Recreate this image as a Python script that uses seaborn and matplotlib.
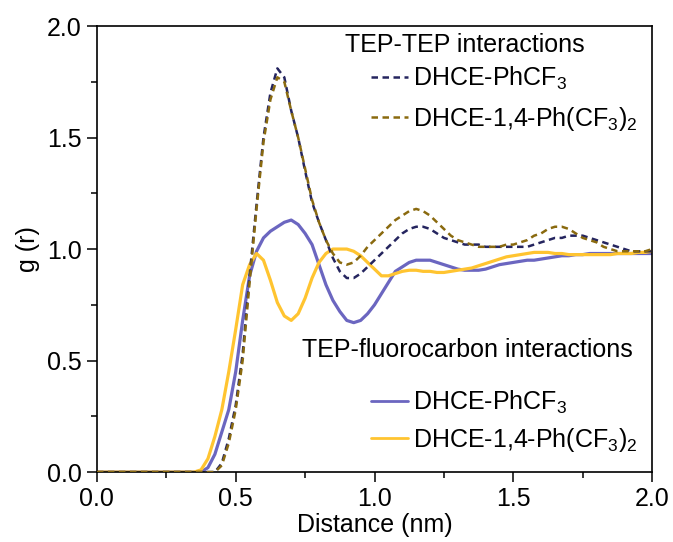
import numpy as np
import pandas as pd
import matplotlib
matplotlib.use("Agg")
import matplotlib.pyplot as plt
from matplotlib.lines import Line2D
import seaborn as sns

# ---------------- data ----------------
distance = [0.000, 0.025, 0.050, 0.075, 0.100, 0.125, 0.150, 0.175, 0.200, 0.225,
            0.250, 0.275, 0.300, 0.325, 0.350, 0.375, 0.400, 0.425, 0.450, 0.475,
            0.500, 0.525, 0.550, 0.575, 0.600, 0.625, 0.650, 0.675, 0.700, 0.725,
            0.750, 0.775, 0.800, 0.825, 0.850, 0.875, 0.900, 0.925, 0.950, 0.975,
            1.000, 1.025, 1.050, 1.075, 1.100, 1.125, 1.150, 1.175, 1.200, 1.225,
            1.250, 1.275, 1.300, 1.325, 1.350, 1.375, 1.400, 1.425, 1.450, 1.475,
            1.500, 1.525, 1.550, 1.575, 1.600, 1.625, 1.650, 1.675, 1.700, 1.725,
            1.750, 1.775, 1.800, 1.825, 1.850, 1.875, 1.900, 1.925, 1.950, 1.975,
            2.000]

tep_tep_phcf3 = [0, 0, 0, 0, 0, 0, 0, 0, 0, 0,
                 0, 0, 0, 0, 0, 0, 0, 0.00, 0.04, 0.15,
                 0.30, 0.53, 0.88, 1.20, 1.50, 1.70, 1.81, 1.77, 1.62, 1.50,
                 1.35, 1.21, 1.12, 1.04, 0.96, 0.90, 0.87, 0.87, 0.89, 0.92,
                 0.95, 0.98, 1.01, 1.04, 1.07, 1.09, 1.10, 1.10, 1.09, 1.07,
                 1.05, 1.04, 1.03, 1.02, 1.02, 1.02, 1.01, 1.01, 1.01, 1.01,
                 1.01, 1.01, 1.01, 1.02, 1.03, 1.04, 1.05, 1.05, 1.06, 1.06,
                 1.06, 1.05, 1.04, 1.03, 1.02, 1.01, 1.00, 0.99, 0.99, 0.99,
                 0.99]

tep_tep_ph2cf3 = [0, 0, 0, 0, 0, 0, 0, 0, 0, 0,
                  0, 0, 0, 0, 0, 0, 0, 0.00, 0.03, 0.13,
                  0.28, 0.50, 0.85, 1.18, 1.48, 1.67, 1.77, 1.75, 1.62, 1.50,
                  1.36, 1.22, 1.12, 1.04, 0.98, 0.94, 0.93, 0.94, 0.97, 1.01,
                  1.04, 1.07, 1.10, 1.13, 1.15, 1.17, 1.18, 1.17, 1.15, 1.12,
                  1.09, 1.06, 1.04, 1.03, 1.02, 1.01, 1.01, 1.01, 1.01, 1.02,
                  1.02, 1.03, 1.04, 1.06, 1.07, 1.09, 1.10, 1.10, 1.09, 1.07,
                  1.05, 1.04, 1.03, 1.01, 1.00, 0.99, 0.99, 0.99, 0.99, 0.99,
                  1.00]

tep_fc_phcf3 = [0, 0, 0, 0, 0, 0, 0, 0, 0, 0,
                0, 0, 0, 0, 0, 0.00, 0.02, 0.08, 0.18, 0.28,
                0.45, 0.68, 0.88, 0.99, 1.05, 1.08, 1.10, 1.12, 1.13, 1.11,
                1.07, 1.02, 0.93, 0.84, 0.77, 0.72, 0.68, 0.67, 0.68, 0.71,
                0.75, 0.80, 0.85, 0.90, 0.92, 0.94, 0.95, 0.95, 0.95, 0.94,
                0.93, 0.92, 0.91, 0.905, 0.905, 0.905, 0.91, 0.92, 0.93, 0.935,
                0.94, 0.945, 0.95, 0.95, 0.955, 0.96, 0.965, 0.97, 0.97, 0.975,
                0.975, 0.98, 0.98, 0.98, 0.98, 0.98, 0.98, 0.98, 0.98, 0.98,
                0.98]

tep_fc_ph2cf3 = [0, 0, 0, 0, 0, 0, 0, 0, 0, 0,
                 0, 0, 0, 0, 0, 0.01, 0.06, 0.16, 0.28, 0.45,
                 0.64, 0.84, 0.93, 0.98, 0.95, 0.86, 0.76, 0.70, 0.68, 0.71,
                 0.78, 0.87, 0.94, 0.98, 1.00, 1.00, 1.00, 0.99, 0.97, 0.94,
                 0.91, 0.88, 0.88, 0.89, 0.90, 0.905, 0.905, 0.90, 0.90, 0.895,
                 0.895, 0.90, 0.905, 0.91, 0.915, 0.925, 0.935, 0.945, 0.955, 0.965,
                 0.97, 0.975, 0.98, 0.985, 0.985, 0.985, 0.98, 0.98, 0.975, 0.975,
                 0.975, 0.975, 0.975, 0.975, 0.975, 0.98, 0.98, 0.98, 0.985, 0.985,
                 0.99]

series_labels = ["DHCE-PhCF$_3$", "DHCE-1,4-Ph(CF$_3$)$_2$"]
group_titles = ["TEP-TEP interactions", "TEP-fluorocarbon interactions"]
x_ticks = [0.0, 0.5, 1.0, 1.5, 2.0]
y_ticks = [0.0, 0.5, 1.0, 1.5, 2.0]

# ---------------- style ----------------
sns.set_theme(style="ticks")
plt.rcParams["font.family"] = ["Liberation Sans", "DejaVu Sans"]
plt.rcParams["mathtext.default"] = "regular"
plt.rcParams["text.color"] = "black"
plt.rcParams["axes.labelcolor"] = "black"
plt.rcParams["xtick.color"] = "black"
plt.rcParams["ytick.color"] = "black"

c_navy = "#25255f"
c_brown = "#8a6a0f"
c_purple = "#6b66c0"
c_yellow = "#ffc430"
fs = 18

fig = plt.figure(figsize=(6.73, 5.42), dpi=100)
ax = fig.add_axes([0.144, 0.129, 0.825, 0.823])

df = pd.DataFrame({"d": distance,
                   "a": tep_tep_phcf3, "b": tep_tep_ph2cf3,
                   "c": tep_fc_phcf3, "e": tep_fc_ph2cf3})

dash = (0, (2.6, 1.8))
sns.lineplot(data=df, x="d", y="c", ax=ax, color=c_purple, lw=2.3, zorder=2)
sns.lineplot(data=df, x="d", y="e", ax=ax, color=c_yellow, lw=2.3, zorder=2)
sns.lineplot(data=df, x="d", y="a", ax=ax, color=c_navy, lw=1.8,
             linestyle=dash, zorder=3)
sns.lineplot(data=df, x="d", y="b", ax=ax, color=c_brown, lw=1.8,
             linestyle=dash, zorder=3)

ax.set_xlim(0, 2)
ax.set_ylim(0, 2)
ax.set_xticks(x_ticks)
ax.set_yticks(y_ticks)
ax.set_xticklabels([f"{v:.1f}" for v in x_ticks])
ax.set_yticklabels([f"{v:.1f}" for v in y_ticks])
ax.set_xticks([0.25, 0.75, 1.25, 1.75], minor=True)
ax.set_yticks([0.25, 0.75, 1.25, 1.75], minor=True)
ax.tick_params(which="major", direction="out", length=7, width=1.1,
               labelsize=fs, top=False, right=False, pad=4)
ax.tick_params(which="minor", direction="out", length=4, width=1.1,
               top=False, right=False)
for s in ax.spines.values():
    s.set_visible(True)
    s.set_linewidth(1.2)
    s.set_color("black")
ax.set_xlabel("Distance (nm)", fontsize=fs, labelpad=1)
ax.set_ylabel("g (r)", fontsize=fs, labelpad=5)

# group titles
ax.text(0.894, 1.915, group_titles[0], fontsize=fs, ha="left", va="center")
ax.text(0.739, 0.547, group_titles[1], fontsize=fs, ha="left", va="center")

h1 = [Line2D([], [], color=c_navy, lw=1.8, linestyle=dash),
      Line2D([], [], color=c_brown, lw=1.8, linestyle=dash)]
h2 = [Line2D([], [], color=c_purple, lw=2.0),
      Line2D([], [], color=c_yellow, lw=2.0)]
leg1 = ax.legend(h1, series_labels, loc="upper left",
                 bbox_to_anchor=(0.475, 0.935), frameon=False, fontsize=fs,
                 handlelength=1.5, handletextpad=0.2, labelspacing=0.5,
                 borderaxespad=0)
ax.add_artist(leg1)
ax.legend(h2, series_labels, loc="upper left",
          bbox_to_anchor=(0.475, 0.21), frameon=False, fontsize=fs,
          handlelength=1.5, handletextpad=0.2, labelspacing=0.4,
          borderaxespad=0)

fig.savefig("out.png", dpi=100)
